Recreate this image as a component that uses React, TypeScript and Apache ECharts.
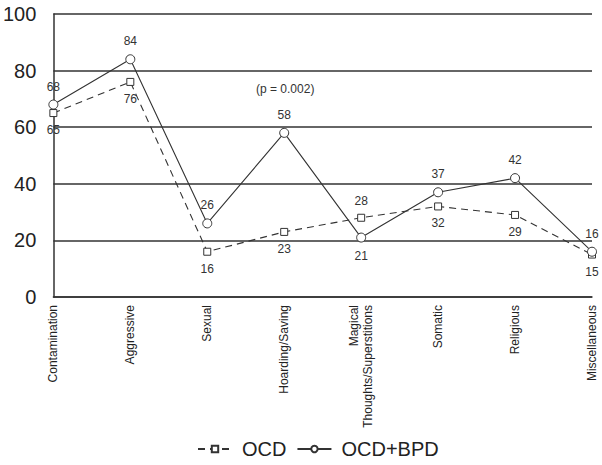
import React, { useEffect, useRef } from "react";
import * as echarts from "echarts";

const categories = [
  "Contamination",
  "Aggressive",
  "Sexual",
  "Hoarding/Saving",
  "Magical\nThoughts/Superstitions",
  "Somatic",
  "Religious",
  "Miscellaneous",
];
const ocd = [65, 76, 16, 23, 28, 32, 29, 15];
const ocdBpd = [68, 84, 26, 58, 21, 37, 42, 16];
const ocdLabelPos = ["bottom", "bottom", "bottom", "bottom", "top", "bottom", "bottom", "bottom"];
const ocdBpdLabelPos = ["top", "top", "top", "top", "bottom", "top", "top", "top"];
const yTicks = [0, 20, 40, 60, 80, 100];

export default function App() {
  const ref = useRef<HTMLDivElement>(null);
  useEffect(() => {
    const chart = echarts.init(ref.current!, undefined, { renderer: "svg" });
    const font = "Liberation Sans, Arial, sans-serif";
    const lineColor = "#333";
    chart.setOption({
      animation: false,
      textStyle: { fontFamily: font },
      grid: { left: 53, right: 10, top: 14, bottom: 168, containLabel: false },
      legend: {
        bottom: 1,
        left: 192,
        itemWidth: 34,
        itemHeight: 8,
        itemGap: 10,
        textStyle: { fontSize: 20, color: "#222", fontFamily: font, padding: [0, 0, 0, 5] },
        data: ["OCD", "OCD+BPD"],
      },
      graphic: [
        {
          type: "text",
          left: 256,
          top: 83,
          style: { text: "(p = 0.002)", fontSize: 12, fill: "#333", fontFamily: font },
        },
      ],
      xAxis: {
        type: "category",
        data: categories,
        boundaryGap: false,
        axisLine: { lineStyle: { color: lineColor, width: 1.5 } },
        axisTick: { show: false },
        axisLabel: {
          rotate: 90,
          fontSize: 12,
          color: "#222",
          margin: 8,
          lineHeight: 14,
          interval: 0,
        },
      },
      yAxis: {
        type: "value",
        min: 0,
        max: 100,
        interval: 20,
        axisLine: { show: true, lineStyle: { color: lineColor, width: 1.5 } },
        axisTick: { show: false },
        axisLabel: {
          fontSize: 20,
          color: "#222",
          margin: 17,
          formatter: (v: number) => (yTicks.includes(v) ? String(v) : ""),
        },
        splitLine: { show: true, lineStyle: { color: lineColor, width: 1.5 } },
      },
      series: [
        {
          name: "OCD",
          type: "line",
          symbol: "rect",
          symbolSize: 7,
          showAllSymbol: true,
          itemStyle: { color: "#fff", borderColor: lineColor, borderWidth: 1 },
          lineStyle: { color: lineColor, width: 1.1, type: [7, 5] },
          data: ocd.map((v, i) => ({
            value: v,
            label: { show: true, position: ocdLabelPos[i], fontSize: 12, color: "#333", distance: 7 },
          })),
          z: 3,
        },
        {
          name: "OCD+BPD",
          type: "line",
          symbol: "circle",
          symbolSize: 9,
          showAllSymbol: true,
          itemStyle: { color: "#fff", borderColor: lineColor, borderWidth: 1 },
          lineStyle: { color: lineColor, width: 1.1, type: "solid" },
          data: ocdBpd.map((v, i) => ({
            value: v,
            label: { show: true, position: ocdBpdLabelPos[i], fontSize: 12, color: "#333", distance: 7 },
          })),
          z: 4,
        },
      ],
    });
    return () => chart.dispose();
  }, []);
  return (
    <div
      ref={ref}
      style={{ position: "absolute", left: 0, top: 0, width: 602, height: 465 }}
    />
  );
}
